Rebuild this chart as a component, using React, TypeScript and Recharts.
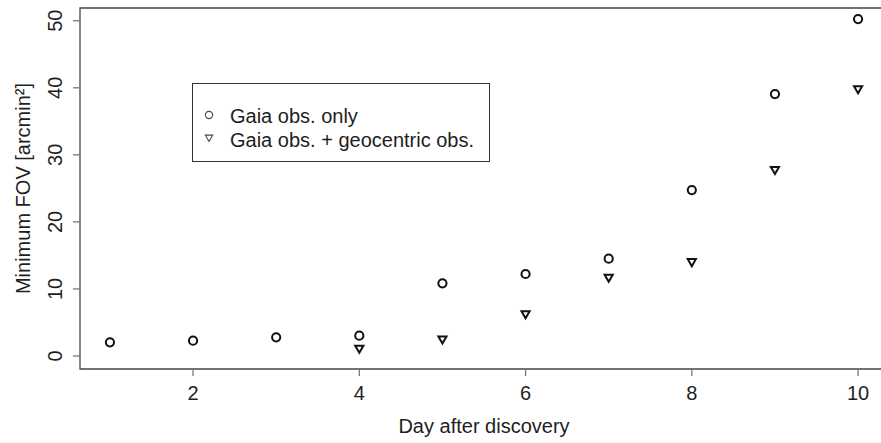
import React from "react";
import { ScatterChart, Scatter, XAxis, YAxis, ReferenceArea, Legend } from "recharts";

const days = [1, 2, 3, 4, 5, 6, 7, 8, 9, 10];
const gaiaOnly = [2.04, 2.28, 2.79, 3.03, 10.84, 12.23, 14.51, 24.75, 39.07, 50.25];
const gaiaGeo: (number | null)[] = [null, null, null, 1.18, 2.57, 6.34, 11.78, 14.1, 27.84, 39.88];
const xTicks = [2, 4, 6, 8, 10];
const yTicks = [0, 10, 20, 30, 40, 50];
const seriesNames = ["Gaia obs. only", "Gaia obs. + geocentric obs."];
const xTitle = "Day after discovery";
const yTitle = "Minimum FOV [arcmin²]";

const X_DOMAIN: [number, number] = [0.64, 10.36];
const Y_DOMAIN: [number, number] = [-1.94, 51.9];

const gaiaOnlyData = days.map((d, i) => ({ day: d, fov: gaiaOnly[i] }));
const gaiaGeoData = days
  .map((d, i) => ({ day: d, fov: gaiaGeo[i] }))
  .filter((p) => p.fov !== null);

const FONT = "'Liberation Sans', Arial, Helvetica, sans-serif";
const TEXT = "#1e1e1e";

const CircleShape = (props: any) => {
  const { cx, cy } = props;
  if (cx == null || cy == null) return <g />;
  return <circle cx={cx} cy={cy} r={4.1} fill="none" stroke="#111" strokeWidth={2} />;
};

const TriangleShape = (props: any) => {
  const { cx, cy } = props;
  if (cx == null || cy == null) return <g />;
  const r = 4.7;
  const xc = r * 0.866;
  const pts = `${cx},${cy + r} ${cx + xc},${cy - r / 2} ${cx - xc},${cy - r / 2}`;
  return <polygon points={pts} fill="none" stroke="#111" strokeWidth={2} strokeLinejoin="miter" />;
};

const XTick = (props: any) => {
  const { x, y, payload } = props;
  return (
    <text x={x} y={y} textAnchor="middle" fontFamily={FONT} fontSize={20} fill={TEXT}>
      {payload.value}
    </text>
  );
};

const YTick = (props: any) => {
  const { x, y, payload } = props;
  return (
    <text
      x={x}
      y={y}
      transform={`rotate(-90 ${x} ${y})`}
      textAnchor="middle"
      fontFamily={FONT}
      fontSize={20}
      fill={TEXT}
    >
      {payload.value}
    </text>
  );
};

const XTitle = (props: any) => {
  const vb = props.viewBox || {};
  const x = 484;
  const y = vb.y + 64;
  return (
    <text x={x} y={y} textAnchor="middle" fontFamily={FONT} fontSize={20} fill={TEXT}>
      {xTitle}
    </text>
  );
};

const YTitle = (props: any) => {
  const vb = props.viewBox || {};
  const x = vb.x + 30;
  const y = vb.y + vb.height / 2;
  return (
    <text
      x={x}
      y={y}
      transform={`rotate(-90 ${x} ${y})`}
      textAnchor="middle"
      fontFamily={FONT}
      fontSize={20}
      fill={TEXT}
    >
      {yTitle}
    </text>
  );
};

const LegendBox = () => {
  const r = 4.2;
  const xc = r * 0.866;
  const tx = 17;
  const ty = 55.3;
  return (
    <svg width={298} height={79} style={{ display: "block" }}>
      <rect x={0.5} y={0.5} width={297} height={78} fill="#fff" stroke="#333" strokeWidth={1} />
      <circle cx={17} cy={32} r={3.6} fill="none" stroke="#444" strokeWidth={1.1} />
      <polygon
        points={`${tx},${ty + r * 0.75} ${tx + xc},${ty - r * 0.75} ${tx - xc},${ty - r * 0.75}`}
        fill="none"
        stroke="#444"
        strokeWidth={1.1}
      />
      <text x={38} y={40} fontFamily={FONT} fontSize={20} fill={TEXT}>
        {seriesNames[0]}
      </text>
      <text x={38} y={64} fontFamily={FONT} fontSize={20} fill={TEXT}>
        {seriesNames[1]}
      </text>
    </svg>
  );
};

export default function App() {
  return (
    <div
      style={{
        position: "absolute",
        left: 0,
        top: 0,
        width: 881,
        height: 443,
        overflow: "hidden",
        background: "#fff",
      }}
    >
      <ScatterChart width={920} height={443} margin={{ top: 8, right: 32, bottom: 0, left: 0 }}>
        <XAxis
          type="number"
          dataKey="day"
          domain={X_DOMAIN}
          ticks={xTicks}
          allowDataOverflow
          axisLine={false}
          tickSize={7}
          tickMargin={24}
          tickLine={{ stroke: "#777", strokeWidth: 1.3 }}
          tick={<XTick />}
          height={74}
          label={<XTitle />}
        />
        <YAxis
          type="number"
          dataKey="fov"
          domain={Y_DOMAIN}
          ticks={yTicks}
          allowDataOverflow
          axisLine={false}
          tickSize={7}
          tickMargin={11}
          tickLine={{ stroke: "#777", strokeWidth: 1.3 }}
          tick={<YTick />}
          width={80}
          label={<YTitle />}
        />
        <ReferenceArea
          x1={X_DOMAIN[0]}
          x2={10.6}
          y1={Y_DOMAIN[0]}
          y2={Y_DOMAIN[1]}
          fill="none"
          fillOpacity={0}
          stroke="#444"
          strokeWidth={1.3}
          ifOverflow="visible"
        />
        <Legend
          layout="horizontal"
          verticalAlign="middle"
          align="center"
          content={<LegendBox />}
          wrapperStyle={{ left: 192, top: 83, width: 298, height: 79 }}
        />
        <Scatter name={seriesNames[0]} data={gaiaOnlyData} shape={<CircleShape />} isAnimationActive={false} />
        <Scatter name={seriesNames[1]} data={gaiaGeoData} shape={<TriangleShape />} isAnimationActive={false} />
      </ScatterChart>
    </div>
  );
}
